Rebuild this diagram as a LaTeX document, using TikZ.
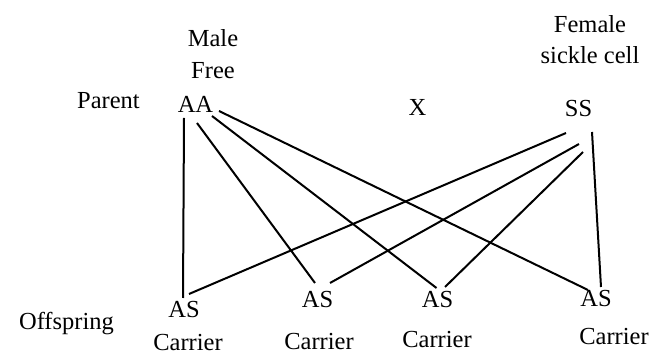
\documentclass[tikz,border=0pt]{standalone}
\usepackage{fontspec}
\setmainfont{Liberation Serif}
\usepackage{tikz}

\begin{document}
\begin{tikzpicture}[
    x=1pt, y=1pt,
    txt/.style={font=\fontsize{24.5}{28}\selectfont, inner sep=0pt, anchor=base},
    link/.style={line width=2pt}
]
    \useasboundingbox (0,0) rectangle (662,356);

    % Parents
    \node[txt] (male) at (213,309) {Male};
    \node[txt] (free) at (213,277) {Free};
    \node[txt] (parent) at (108.5,247) {Parent};
    \node[txt] (aa) at (195.5,243) {AA};
    \node[txt] (cross) at (417.5,240) {X};
    \node[txt] (female) at (590,323) {Female};
    \node[txt] (sickle) at (590,292) {sickle cell};
    \node[txt] (ss) at (578.5,239) {SS};

    % Offspring
    \node[txt] (offspring) at (66.5,26) {Offspring};
    \node[txt] (as1) at (184,38) {AS};
    \node[txt] (as2) at (317.5,48) {AS};
    \node[txt] (as3) at (437.5,48) {AS};
    \node[txt] (as4) at (596,49) {AS};
    \node[txt] (carrier1) at (188,5) {Carrier};
    \node[txt] (carrier2) at (319,6) {Carrier};
    \node[txt] (carrier3) at (437,8) {Carrier};
    \node[txt] (carrier4) at (614,11) {Carrier};

    % Lines from AA
    \draw[link] ([shift={(-11.5,-5)}]aa.base) -- ([shift={(-1,20)}]as1.base);
    \draw[link] ([shift={(1.5,-10)}]aa.base) -- ([shift={(-2.5,25)}]as2.base);
    \draw[link] ([shift={(16.5,-3)}]aa.base) -- ([shift={(-1,20)}]as3.base);
    \draw[link] ([shift={(23.5,2)}]aa.base) -- ([shift={(-8,17)}]as4.base);

    % Lines from SS
    \draw[link] ([shift={(-12.5,-16)}]ss.base) -- ([shift={(5,24)}]as1.base);
    \draw[link] ([shift={(0.5,-27)}]ss.base) -- ([shift={(12.5,25)}]as2.base);
    \draw[link] ([shift={(4.5,-35)}]ss.base) -- ([shift={(7.5,21)}]as3.base);
    \draw[link] ([shift={(13.5,-15)}]ss.base) -- ([shift={(5,20)}]as4.base);
\end{tikzpicture}
\end{document}
